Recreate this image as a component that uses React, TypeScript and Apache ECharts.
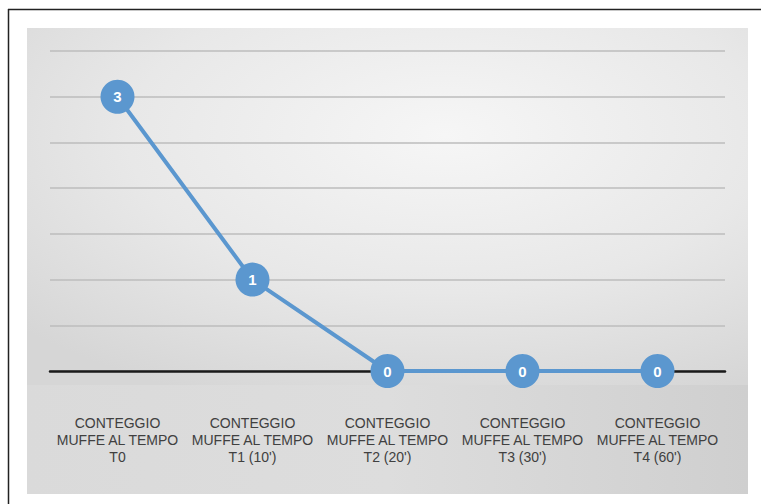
import React, { useEffect, useRef } from "react";
import * as echarts from "echarts";

const categories = [
  "CONTEGGIO\nMUFFE AL TEMPO\nT0",
  "CONTEGGIO\nMUFFE AL TEMPO\nT1 (10')",
  "CONTEGGIO\nMUFFE AL TEMPO\nT2 (20')",
  "CONTEGGIO\nMUFFE AL TEMPO\nT3 (30')",
  "CONTEGGIO\nMUFFE AL TEMPO\nT4 (60')",
];
const values = [3, 1, 0, 0, 0];

const BLUE = "#5b97cf";

export default function App() {
  const ref = useRef<HTMLDivElement>(null);
  useEffect(() => {
    if (!ref.current) return;
    const chart = echarts.init(ref.current, null, { renderer: "svg" });
    chart.setOption({
      animation: false,
      backgroundColor: "#ffffff",
      graphic: [
        {
          type: "rect",
          z: -10,
          silent: true,
          shape: { x: 27, y: 28, width: 721, height: 357 },
          style: {
            fill: new echarts.graphic.RadialGradient(0.58, 0.3, 0.8, [
              { offset: 0, color: "#f6f6f6" },
              { offset: 0.55, color: "#e8e8e8" },
              { offset: 1, color: "#d6d6d6" },
            ]),
          },
        },
        {
          type: "rect",
          z: -10,
          silent: true,
          shape: { x: 27, y: 385, width: 721, height: 109 },
          style: {
            fill: new echarts.graphic.LinearGradient(0, 0, 1, 0, [
              { offset: 0, color: "#dadada" },
              { offset: 0.5, color: "#dddddd" },
              { offset: 1, color: "#cfcfcf" },
            ]),
          },
        },
        {
          type: "line",
          silent: true,
          shape: { x1: 8.5, y1: 9, x2: 8.5, y2: 504 },
          style: { stroke: "#222222", lineWidth: 1.5 },
        },
        {
          type: "line",
          silent: true,
          shape: { x1: 8, y1: 9.5, x2: 761, y2: 9.5 },
          style: { stroke: "#222222", lineWidth: 1.5 },
        },
      ],
      grid: { left: 50, right: 36, top: 51, height: 320, containLabel: false },
      xAxis: {
        type: "category",
        data: categories,
        boundaryGap: true,
        axisLine: { show: true, lineStyle: { color: "#1a1a1a", width: 2.5 } },
        axisTick: { show: false },
        axisLabel: {
          interval: 0,
          margin: 43,
          color: "#404040",
          fontFamily: "Liberation Sans, Arial, sans-serif",
          fontSize: 14,
          lineHeight: 17,
          align: "center",
        },
      },
      yAxis: {
        type: "value",
        min: 0,
        max: 3.5,
        interval: 0.5,
        axisLine: { show: false },
        axisTick: { show: false },
        axisLabel: { show: false },
        splitLine: { show: true, lineStyle: { color: "#bdbdbd", width: 1.5 } },
      },
      series: [
        {
          type: "line",
          data: values,
          symbol: "circle",
          symbolSize: 34,
          itemStyle: { color: BLUE },
          lineStyle: { color: BLUE, width: 4 },
          label: {
            show: true,
            position: "inside",
            color: "#ffffff",
            fontWeight: "bold",
            fontSize: 15,
            fontFamily: "Liberation Sans, Arial, sans-serif",
          },
          z: 5,
        },
      ],
    });
    return () => chart.dispose();
  }, []);
  return (
    <div
      ref={ref}
      style={{ position: "fixed", left: 0, top: 0, width: 761, height: 504 }}
    />
  );
}
